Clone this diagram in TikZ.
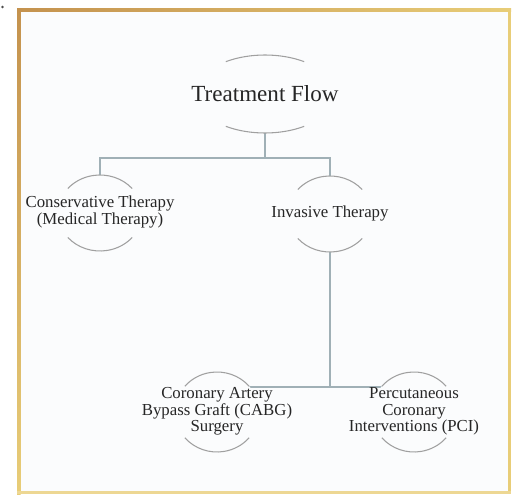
\documentclass[tikz,border=0pt]{standalone}
\usepackage{fontspec}
\setmainfont{Liberation Serif}
\usetikzlibrary{shapes.geometric}

\definecolor{inkc}{RGB}{38,38,38}
\definecolor{wirec}{RGB}{160,176,182}
\definecolor{arcc}{RGB}{160,160,160}
\definecolor{paper}{RGB}{251,252,253}
\definecolor{goldA}{RGB}{196,146,78}
\definecolor{goldB}{RGB}{232,205,120}

\pgfdeclarelayer{framelayer}
\pgfdeclarelayer{wirelayer}
\pgfsetlayers{framelayer,wirelayer,main}

% top and bottom caps of an elliptic bubble: node, x radius, y radius, half angle
\newcommand\capsarcs[4]{%
  \draw[arcline] ([shift={(90-#4:#2 and #3)}]#1.center)
    arc[start angle=90-#4, end angle=90+#4, x radius=#2, y radius=#3];
  \draw[arcline] ([shift={(270-#4:#2 and #3)}]#1.center)
    arc[start angle=270-#4, end angle=270+#4, x radius=#2, y radius=#3];}

% multi-line label that does not widen its bubble
\newcommand\lbl[1]{\makebox[0pt]{\begin{tabular}{@{}c@{}}#1\end{tabular}}}

\begin{document}
\begin{tikzpicture}[x=0.75pt,y=0.75pt,
  bubble/.style={ellipse, fill=paper, draw=none, inner sep=0pt, text=inkc},
  titlebub/.style={bubble, minimum width=105pt, minimum height=58.5pt,
    font=\fontsize{17.3}{20}\selectfont},
  midbub/.style={bubble, minimum width=63pt, minimum height=57pt,
    font=\fontsize{12.6}{12.75}\selectfont},
  lowbub/.style={bubble, minimum width=63pt, minimum height=60pt,
    font=\fontsize{12.6}{12.4}\selectfont},
  wire/.style={draw=wirec, line width=0.8pt},
  arcline/.style={draw=arcc, line width=0.8pt}]

\useasboundingbox (0,0) rectangle (514,497);

% page and golden frame
\begin{pgfonlayer}{framelayer}
  \fill[white] (0,0) rectangle (514,497);
  \fill[paper] (18,4) rectangle (510,487);
  \shade[left color=goldA, right color=goldB] (17,485) rectangle (511,488.5);
  \shade[top color=goldA, bottom color=goldB] (17,3) rectangle (20.5,488.5);
  \fill[goldB] (507.5,3) rectangle (511,486);
  \fill[goldB!80!white] (17,3) rectangle (511,6.5);
  \fill[black!70] (2.5,490) circle (1.1pt);
\end{pgfonlayer}

% nodes
\node[titlebub] (tf) at (265,403) {\makebox[0pt]{Treatment Flow}};
\node[midbub] (cons) at (100,284) {\lbl{Conservative Therapy\\(Medical Therapy)}};
\node[midbub] (inv) at (330,283) {\lbl{Invasive Therapy}};
\node[lowbub] (cabg) at (217,85) {\lbl{Coronary Artery\\Bypass Graft (CABG)\\Surgery}};
\node[lowbub] (pci) at (414,85) {\lbl{Percutaneous\\Coronary\\Interventions (PCI)}};

% bubble outlines
\capsarcs{tf}{52.5pt}{29.25pt}{34}
\capsarcs{cons}{31.5pt}{28.5pt}{50}
\capsarcs{inv}{31.5pt}{28.5pt}{50}
\capsarcs{cabg}{31.5pt}{30pt}{50}
\capsarcs{pci}{31.5pt}{30pt}{50}

% connectors
\coordinate (split) at (265,339);
\coordinate (fork) at (330,110);
\begin{pgfonlayer}{wirelayer}
  \draw[wire] (tf.south) -- (split);
  \draw[wire] (split) -| (cons.north);
  \draw[wire] (split) -| (inv.north);
  \draw[wire] (inv.south) -- (fork);
  \draw[wire] (fork -| cabg.center) -- (fork -| pci.center);
\end{pgfonlayer}
\end{tikzpicture}
\end{document}
